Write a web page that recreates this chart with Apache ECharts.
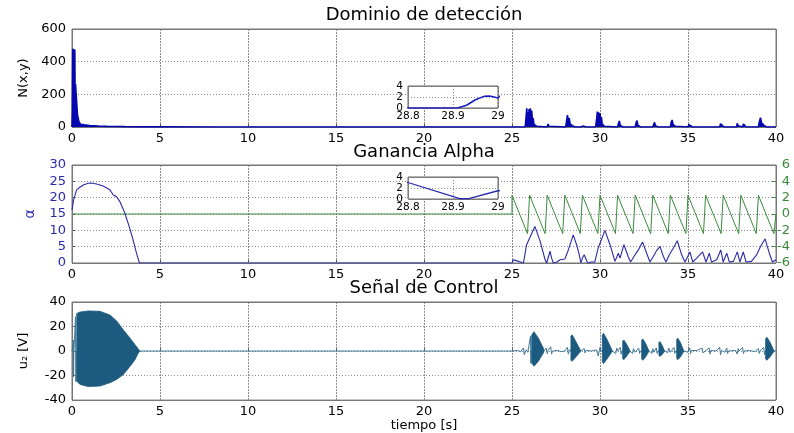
<!DOCTYPE html>
<html>
<head>
<meta charset="utf-8">
<script src="https://cdn.jsdelivr.net/npm/echarts@6/dist/echarts.min.js"></script>
<style>
  html, body { margin: 0; padding: 0; background: #fff; }
  #chart { width: 794px; height: 433px; }
</style>
</head>
<body>
<div id="chart"></div>
<script>
// ---- Tick values
const timeTicks = [0, 5, 10, 15, 20, 25, 30, 35, 40];
const detTicks = [0, 200, 400, 600];
const alphaTicks = [0, 5, 10, 15, 20, 25, 30];
const u2Ticks = [-40, -20, 0, 20, 40];
const zoomTimeTicks = [28.8, 28.9, 29];
const zoomTicks = [0, 2, 4];

// ---- Dominio de detección: N(x,y) over time [t, N]
const detection = [
  [0,0],[0.02,100],[0.04,476],[0.08,470],[0.12,476],[0.16,470],[0.18,120],[0.2,263],[0.24,258],[0.28,263],
  [0.31,75],[0.34,60],[0.4,30],[0.5,16],[0.7,13],[1.0,9],[1.5,6],[2.0,4],[2.5,3],[3.0,2],[4.0,1],[5.0,0.5],[8.0,0],
  [25.75,0],[25.8,60],[25.84,114],[25.87,40],[25.9,90],[25.93,20],[25.97,110],[26.0,50],[26.04,114],[26.08,30],
  [26.12,100],[26.16,40],[26.2,55],[26.25,15],[26.32,22],[26.4,5],[26.5,0],
  [27.0,0],[27.05,18],[27.1,5],[27.15,0],
  [28.05,0],[28.1,35],[28.15,73],[28.2,40],[28.25,55],[28.3,20],[28.35,30],[28.42,8],[28.5,2],[28.6,0],
  [28.91,0],[28.93,0.5],[28.95,1.5],[28.97,2.15],[28.98,2.2],[28.99,2.05],[29.0,1.8],[29.05,6],[29.1,2],[29.2,0],
  [29.75,0],[29.8,40],[29.85,94],[29.88,30],[29.92,90],[29.96,20],[30.0,85],[30.04,40],[30.08,60],[30.12,20],
  [30.18,30],[30.25,5],[30.35,0],
  [31.0,0],[31.05,20],[31.1,37],[31.15,10],[31.2,15],[31.3,0],
  [32.0,0],[32.05,25],[32.1,39],[32.15,12],[32.2,15],[32.3,0],
  [32.6,0],[32.65,4],[32.7,0],
  [33.0,0],[33.05,15],[33.1,28],[33.15,8],[33.2,10],[33.3,0],
  [34.0,0],[34.05,30],[34.1,43],[34.15,15],[34.2,20],[34.28,5],[34.35,0],
  [35.0,0],[35.05,15],[35.1,22],[35.15,5],[35.25,0],
  [35.75,0],[35.8,12],[35.85,4],[35.9,0],
  [36.3,0],[36.35,8],[36.4,0],
  [36.8,0],[36.85,20],[36.9,28],[36.95,8],[37.05,0],
  [37.75,0],[37.8,22],[37.85,8],[37.95,0],
  [38.1,0],[38.15,18],[38.2,6],[38.3,0],
  [39.0,0],[39.05,30],[39.12,57],[39.18,25],[39.25,30],[39.32,10],[39.45,0],[40,0]
];

// ---- Ganancia Alpha: alpha over time [t, alpha]
const alphaGain = [
  [0,16.3],[0.1,19.5],[0.26,22.4],[0.45,23.2],[0.64,23.9],[0.92,24.4],[1.1,24.5],[1.4,24.2],[1.77,23.6],
  [2.15,22.4],[2.34,20.9],[2.53,20.3],[2.72,18.8],[3.0,15.3],[3.28,10.7],[3.47,7.1],[3.66,3.1],[3.83,0],
  [25.0,0],[25.08,1],[25.2,0.8],[25.3,0.2],[25.65,0],[25.83,5.6],[26.3,11.2],[26.6,6.6],[26.88,1],[26.97,0],
  [27.16,3.6],[27.25,1.5],[27.35,0],[27.55,0.3],[27.73,1],[28.0,1.2],[28.2,4],[28.48,8.6],[28.67,5.6],
  [28.8,3],[28.915,0.05],[28.935,0.05],[29.0,1.5],[29.1,2.5],[29.3,0],[29.5,0.3],[29.7,0.3],[29.9,4.6],
  [30.28,10],[30.57,5.6],[30.85,0.5],[31.04,3],[31.14,1.5],[31.36,5.6],[31.6,2],[31.74,0.3],[31.99,2.5],
  [32.18,4],[32.42,6.4],[32.65,3],[32.84,0.3],[33.03,2],[33.22,3.8],[33.41,5.1],[33.6,2],[33.75,0.3],
  [33.94,2.5],[34.17,4.6],[34.39,6.8],[34.64,2.5],[34.83,0.3],[35.11,3.4],[35.27,0.3],[35.49,1.5],
  [35.83,3.4],[36.02,0.3],[36.21,3],[36.34,0.3],[36.63,1],[36.86,4],[37.0,0.3],[37.2,3],[37.35,0.3],
  [37.58,0.5],[37.8,3.4],[37.95,0.3],[38.14,3.4],[38.3,0.3],[38.6,0.5],[38.9,2.5],[39.13,5.1],[39.38,7.4],
  [39.62,3],[39.8,0.3],[40,1]
];

// ---- Sawtooth on the right-hand axis [t, value]
const sawtooth = [
  [0,0],[25,0],[25,2.3],[25.88,-2.4],[26,2.3],[26.88,-2.4],[27,2.3],[27.88,-2.4],[28,2.3],[28.88,-2.4],
  [29,2.3],[29.88,-2.4],[30,2.3],[30.88,-2.4],[31,2.3],[31.88,-2.4],[32,2.3],[32.88,-2.4],[33,2.3],[33.88,-2.4],
  [34,2.3],[34.88,-2.4],[35,2.3],[35.88,-2.4],[36,2.3],[36.88,-2.4],[37,2.3],[37.88,-2.4],[38,2.3],[38.88,-2.4],
  [39,2.3],[39.88,-2.4],[40,0]
];

// ---- Señal de Control: low-level trace between bursts [t, u2]
const u2Trace = [
  [0,0],[0.06,0],[0.08,9],[0.09,-21],[0.11,0],[0.18,0],[0.2,28],[0.22,-25],[0.25,0],[3.86,0],
  [25.0,0],[25.3,0.5],[25.5,-0.5],[25.65,2.5],[25.7,-3],[25.8,1],[25.9,-1],[26.0,0],[26.03,0],[26.05,12],[26.07,-10],[26.09,0],
  [26.8,0],[26.95,2.5],[27.0,-2],[27.05,0.5],[27.2,3.5],[27.25,-2.5],[27.3,0],[27.6,0.5],[27.8,-0.5],[28.0,0],
  [28.15,3],[28.2,-2.5],[28.25,1],[28.3,0],
  [28.9,0],[29.1,2],[29.15,-1.5],[29.2,0.5],[29.5,0],[29.8,1],[29.9,-4],[30.0,3],[30.05,0],
  [30.7,0],[30.9,-2],[30.95,2.5],[31.0,0],[31.15,3],[31.2,-2.5],[31.25,0],
  [31.7,0],[31.85,-2],[31.9,2],[32.0,-1],[32.2,2.5],[32.25,-2],[32.3,0],
  [32.8,0],[32.95,-2],[33.0,2],[33.05,-1],[33.2,2.5],[33.25,-2],[33.3,0],
  [33.7,0],[33.85,-1.5],[33.9,2.5],[34.0,-1],[34.2,3],[34.25,-2],[34.3,0],
  [34.8,0],[35.0,-1],[35.1,2.5],[35.15,-2],[35.2,0.5],[35.5,0.3],[35.8,2.5],[35.85,-1.5],[35.9,0],
  [36.2,2.5],[36.25,-2.5],[36.3,0.5],[36.6,0],[36.8,3],[36.85,-3],[36.9,0.5],[37.1,-1],[37.2,2.5],
  [37.25,-2],[37.3,0],[37.7,0.5],[37.8,-2.5],[37.85,2],[37.9,0],[38.1,3],[38.15,-2],[38.2,0],[38.5,0.5],
  [38.8,-0.5],[39.0,2],[39.05,-2],[39.1,0],[39.3,3],[39.35,-3],[39.4,0],[39.9,0],[40,0.5]
];

// ---- Señal de Control: oscillation envelopes (time, upper, lower)
const u2Bursts = [
  { t: [0.27,0.45,0.93,1.59,2.16,2.54,2.92,3.3,3.58,3.77,3.86],
    hi: [30.6,31.8,32.7,32.4,29.3,24.5,17.2,10.5,5.2,1.6,0],
    lo: [-24.5,-27.2,-29,-28.5,-25.8,-23.1,-19.1,-12.4,-7,-1.6,0] },
  { t: [26.12,26.25,26.5,26.78,26.82], hi: [13.1,15.8,10.5,2.4,0], lo: [-9.7,-12.4,-8.3,-1.6,0] },
  { t: [28.35,28.42,28.62,28.86,28.9], hi: [12,13.2,8,1.5,0], lo: [-7.5,-8.3,-5,-1,0] },
  { t: [30.13,30.2,30.4,30.66,30.7], hi: [13,14.5,9.5,1.5,0], lo: [-9,-10.2,-6.5,-1,0] },
  { t: [31.29,31.35,31.5,31.67,31.7], hi: [8,9.1,6,1.2,0], lo: [-6,-7,-4.5,-1,0] },
  { t: [32.37,32.43,32.58,32.75,32.78], hi: [8.8,9.9,6.5,1.2,0], lo: [-6.5,-7.5,-5,-1,0] },
  { t: [33.35,33.4,33.52,33.64,33.67], hi: [7,7.8,5,1,0], lo: [-3.8,-4.3,-3,-0.8,0] },
  { t: [34.36,34.42,34.57,34.73,34.76], hi: [9.5,10.5,7,1.2,0], lo: [-6.2,-7,-4.8,-1,0] },
  { t: [39.41,39.48,39.65,39.85,39.88], hi: [10,11.3,7.5,1.2,0], lo: [-6.5,-7.5,-5,-1,0] }
];

const titles = ['Dominio de detección', 'Ganancia Alpha', 'Señal de Control'];

// ---------------------------------------------------------------
const FONT = 'DejaVu Sans';
const GRID_LINE = '#8c8c8c';
const BOX = '#777777';
const BLUE_LBL = '#2a2ab0';
const GREEN = '#3a8a3a';
const U2_COLOR = '#1c5a80';

function splitStyle() {
  return { show: true, lineStyle: { color: GRID_LINE, type: [1, 2], width: 1 } };
}
function xAxisMain(gridIndex, extra) {
  return Object.assign({
    type: 'value', gridIndex, min: timeTicks[0], max: timeTicks[timeTicks.length - 1], interval: 5,
    axisLine: { show: false },
    axisTick: { show: true, inside: true, length: 4, lineStyle: { color: '#555', width: 1 } },
    axisLabel: { color: '#000', fontFamily: FONT, fontSize: 13, margin: 5 },
    splitLine: splitStyle()
  }, extra || {});
}
function yAxisMain(gridIndex, extra) {
  return Object.assign({
    type: 'value', gridIndex,
    axisLine: { show: false },
    axisTick: { show: true, inside: true, length: 4, lineStyle: { color: '#555', width: 1 } },
    axisLabel: { color: '#000', fontFamily: FONT, fontSize: 13, margin: 6 },
    splitLine: splitStyle(),
    nameLocation: 'middle', nameRotate: 90, nameGap: 35,
    nameTextStyle: { color: '#000', fontFamily: FONT, fontSize: 13 }
  }, extra || {});
}
function insetX(gridIndex) {
  return {
    type: 'value', gridIndex, min: 28.8, max: 29, interval: 0.1, z: 8,
    axisLine: { show: false },
    axisTick: { show: false },
    axisLabel: { color: '#000', fontFamily: FONT, fontSize: 10.5, margin: 3 },
    splitLine: splitStyle()
  };
}
function insetY(gridIndex) {
  return {
    type: 'value', gridIndex, min: 0, max: 4, interval: 2, z: 8,
    axisLine: { show: false },
    axisTick: { show: false },
    axisLabel: { color: '#000', fontFamily: FONT, fontSize: 10.5, margin: 5 },
    splitLine: splitStyle()
  };
}

// Dotted grid and solid frame for one panel, drawn as mark lines on the panel's own axes.
function panelGrid(xAxisIndex, yAxisIndex, xTicks, yTicks, z) {
  const dotted = { color: GRID_LINE, type: [1, 2], width: 1 };
  const solid = { color: BOX, type: 'solid', width: 1 };
  const inner = [];
  xTicks.slice(1, -1).forEach(v => inner.push({ xAxis: v, lineStyle: dotted }));
  yTicks.slice(1, -1).forEach(v => inner.push({ yAxis: v, lineStyle: dotted }));
  const frame = [
    { xAxis: xTicks[0], lineStyle: solid },
    { xAxis: xTicks[xTicks.length - 1], lineStyle: solid },
    { yAxis: yTicks[0], lineStyle: solid },
    { yAxis: yTicks[yTicks.length - 1], lineStyle: solid }
  ];
  return {
    type: 'line', xAxisIndex, yAxisIndex, z, silent: true,
    data: [[xTicks[0], yTicks[0]]], showSymbol: false,
    lineStyle: { width: 0, opacity: 0 },
    markLine: {
      z, silent: true, animation: false, symbol: ['none', 'none'],
      label: { show: false }, emphasis: { disabled: true },
      data: inner.concat(frame)
    }
  };
}

const chart = echarts.init(document.getElementById('chart'));

const option = {
  animation: false,
  graphic: [
    { type: 'text', x: 424, y: 15, z: 10, style: { text: titles[0], fontFamily: FONT, fontSize: 18, fill: '#000', align: 'center', verticalAlign: 'middle' } },
    { type: 'text', x: 424, y: 152, z: 10, style: { text: titles[1], fontFamily: FONT, fontSize: 18, fill: '#000', align: 'center', verticalAlign: 'middle' } },
    { type: 'text', x: 424, y: 288, z: 10, style: { text: titles[2], fontFamily: FONT, fontSize: 18, fill: '#000', align: 'center', verticalAlign: 'middle' } }
  ],
  grid: [
    { left: 72, top: 29, width: 704, height: 98, show: true, borderColor: BOX, borderWidth: 1 },
    { left: 72, top: 165, width: 704, height: 98, show: true, borderColor: BOX, borderWidth: 1 },
    { left: 72, top: 302, width: 704, height: 99, show: true, borderColor: BOX, borderWidth: 1 },
    { left: 408, top: 86, width: 90, height: 22, show: true, borderColor: '#666', borderWidth: 1, backgroundColor: '#fff', z: 6 },
    { left: 408, top: 177, width: 90, height: 22, show: true, borderColor: '#666', borderWidth: 1, backgroundColor: '#fff', z: 6 }
  ],
  xAxis: [
    xAxisMain(0),
    xAxisMain(1),
    xAxisMain(2, { name: 'tiempo [s]', nameLocation: 'middle', nameGap: 17,
                   nameTextStyle: { color: '#000', fontFamily: FONT, fontSize: 13 } }),
    insetX(3),
    insetX(4)
  ],
  yAxis: [
    yAxisMain(0, { min: 0, max: 600, interval: 200, name: 'N(x,y)', nameGap: 31 }),
    yAxisMain(1, { min: 0, max: 30, interval: 5, name: 'α',
                   axisLabel: { color: BLUE_LBL, fontFamily: FONT, fontSize: 13, margin: 6 },
                   nameTextStyle: { color: BLUE_LBL, fontFamily: FONT, fontSize: 14 } }),
    {
      type: 'value', gridIndex: 1, position: 'right', min: -6, max: 6, interval: 2,
      axisLine: { show: false },
      axisTick: { show: true, inside: true, length: 4, lineStyle: { color: GREEN, width: 1 } },
      axisLabel: { color: GREEN, fontFamily: FONT, fontSize: 13, align: 'right', margin: 14 },
      splitLine: { show: false }
    },
    yAxisMain(2, { min: -40, max: 40, interval: 20, name: 'u₂ [V]', nameGap: 42 }),
    insetY(3),
    insetY(4)
  ],
  series: [
    panelGrid(0, 0, timeTicks, detTicks, 3),
    panelGrid(1, 1, timeTicks, alphaTicks, 3),
    panelGrid(2, 3, timeTicks, u2Ticks, 3),
    panelGrid(3, 4, zoomTimeTicks, zoomTicks, 7),
    panelGrid(4, 5, zoomTimeTicks, zoomTicks, 7),
    {
      type: 'line', xAxisIndex: 0, yAxisIndex: 0, data: detection, showSymbol: false,
      lineStyle: { color: '#0606b0', width: 1.6 }, areaStyle: { color: '#0606b0', opacity: 1 },
      z: 4
    },
    {
      type: 'line', xAxisIndex: 1, yAxisIndex: 2, data: sawtooth, showSymbol: false,
      lineStyle: { color: GREEN, width: 1 }, z: 4
    },
    {
      type: 'line', xAxisIndex: 1, yAxisIndex: 1, data: alphaGain, showSymbol: false,
      lineStyle: { color: '#2a2aa8', width: 1.1 }, z: 5
    },
    {
      type: 'line', xAxisIndex: 2, yAxisIndex: 3, data: u2Trace, showSymbol: false,
      lineStyle: { color: '#3f7898', width: 1 }, z: 4
    },
    {
      type: 'custom', xAxisIndex: 2, yAxisIndex: 3, z: 5,
      data: u2Bursts.map(b => [b.t[0], 0]),
      renderItem: function (params, api) {
        const b = u2Bursts[params.dataIndex];
        const pts = [];
        for (let i = 0; i < b.t.length; i++) pts.push(api.coord([b.t[i], b.hi[i]]));
        for (let i = b.t.length - 1; i >= 0; i--) pts.push(api.coord([b.t[i], b.lo[i]]));
        return { type: 'polygon', shape: { points: pts },
                 style: { fill: U2_COLOR, stroke: U2_COLOR, lineWidth: 0.8 } };
      }
    },
    {
      type: 'line', xAxisIndex: 3, yAxisIndex: 4, data: detection, showSymbol: false,
      lineStyle: { color: '#1a1ac0', width: 1.5 }, z: 9
    },
    {
      type: 'line', xAxisIndex: 4, yAxisIndex: 5, data: alphaGain, showSymbol: false,
      lineStyle: { color: '#2a2ab0', width: 1.3 }, z: 9
    }
  ]
};

chart.setOption(option);
</script>
</body>
</html>
